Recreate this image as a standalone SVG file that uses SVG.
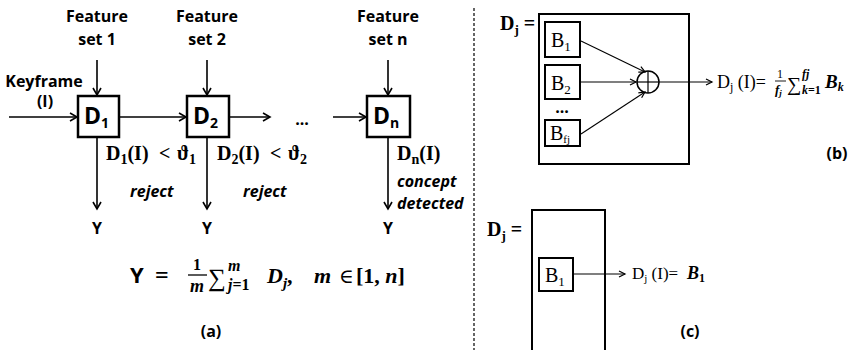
<svg xmlns="http://www.w3.org/2000/svg" width="854" height="350" viewBox="0 0 854 350">
<style>
.lbl{font-family:"Open Sans","Liberation Sans",sans-serif;font-weight:bold;font-size:16px;fill:#000}
.it{font-family:"Open Sans","Liberation Sans",sans-serif;font-weight:bold;font-style:italic;font-size:16px;fill:#000}
.dbox{font-family:"Open Sans","Liberation Sans",sans-serif;font-weight:bold;font-size:23px;fill:#000}
.mb{font-family:"Liberation Serif","DejaVu Serif",serif;font-weight:bold;font-size:20px;fill:#000}
.m{font-family:"Liberation Serif","DejaVu Serif",serif;font-size:15px;fill:#000}
.mi{font-family:"Liberation Serif","DejaVu Serif",serif;font-style:italic;font-weight:bold;fill:#000}
.box{fill:#fff;stroke:#000;stroke-width:2.5}
.box2{fill:none;stroke:#000;stroke-width:2}
.c{stroke:#000;stroke-width:1.6;fill:none}
.c2{stroke:#000;stroke-width:1.1;fill:none}
</style>
<defs>
<marker id="ah" markerUnits="userSpaceOnUse" markerWidth="12" markerHeight="12" refX="8" refY="5" orient="auto">
<path d="M1,1 L8,5 L1,9" fill="none" stroke="#000" stroke-width="1.6"/>
</marker>
<marker id="ah2" markerUnits="userSpaceOnUse" markerWidth="10" markerHeight="10" refX="7" refY="4" orient="auto">
<path d="M1,1 L7,4 L1,7" fill="none" stroke="#000" stroke-width="1.2"/>
</marker>
</defs>

<!-- separator -->
<line x1="474" y1="8" x2="474" y2="350" stroke="#000" stroke-width="1.2" stroke-dasharray="3,2"/>

<!-- panel a -->
<g id="input">
<text class="lbl" x="44" y="87" text-anchor="middle">Keyframe</text>
<text class="lbl" x="45" y="107" text-anchor="middle">(I)</text>
</g>
<g id="fs1"><text class="lbl" x="97" y="22" text-anchor="middle">Feature</text><text class="lbl" x="97" y="45" text-anchor="middle">set 1</text></g>
<g id="fs2"><text class="lbl" x="207" y="22" text-anchor="middle">Feature</text><text class="lbl" x="207" y="45" text-anchor="middle">set 2</text></g>
<g id="fsn"><text class="lbl" x="388" y="22" text-anchor="middle">Feature</text><text class="lbl" x="388" y="45" text-anchor="middle">set n</text></g>

<g id="D1"><rect class="box" x="78" y="96" width="41" height="41"/><text class="dbox" x="84" y="124">D<tspan font-size="14" dy="4">1</tspan></text></g>
<g id="D2"><rect class="box" x="187" y="96" width="42" height="41"/><text class="dbox" x="193" y="124">D<tspan font-size="14" dy="4">2</tspan></text></g>
<g id="dots"><text class="lbl" x="302" y="125" text-anchor="middle">...</text></g>
<g id="Dn"><rect class="box" x="367" y="96" width="43" height="41"/><text class="dbox" x="373" y="124">D<tspan font-size="14" dy="4">n</tspan></text></g>

<g id="cond1">
<text class="mb" x="106" y="160">D<tspan font-size="14" dy="4">1</tspan><tspan dy="-4">(I)</tspan></text>
<text class="mb" x="159" y="160">&lt;</text>
<text class="mb" x="177" y="160">ϑ<tspan font-size="14" dy="4">1</tspan></text>
</g>
<g id="cond2">
<text class="mb" x="217" y="160">D<tspan font-size="14" dy="4">2</tspan><tspan dy="-4">(I)</tspan></text>
<text class="mb" x="270" y="160">&lt;</text>
<text class="mb" x="288" y="160">ϑ<tspan font-size="14" dy="4">2</tspan></text>
</g>
<g id="condn">
<text class="mb" x="397" y="160">D<tspan font-size="14" dy="4">n</tspan><tspan dy="-4">(I)</tspan></text>
</g>

<text class="it" x="130" y="197">reject</text>
<text class="it" x="243" y="197">reject</text>
<text class="it" x="397" y="187">concept</text>
<text class="it" x="397" y="209">detected</text>

<g id="Y1"><text class="lbl" x="97" y="234" text-anchor="middle">Y</text></g>
<g id="Y2"><text class="lbl" x="207" y="234" text-anchor="middle">Y</text></g>
<g id="Yn"><text class="lbl" x="388" y="234" text-anchor="middle">Y</text></g>

<g id="formula">
<text class="lbl" x="130" y="283" style="font-size:22px">Y</text>
<text class="mb" x="155" y="283" style="font-size:24px">=</text>
<text class="mb" x="197" y="270" style="font-size:16px" text-anchor="middle">1</text>
<line x1="188" y1="275" x2="207" y2="275" stroke="#000" stroke-width="1.3"/>
<text class="mi" x="197" y="292" style="font-size:18px" text-anchor="middle">m</text>
<text class="m" x="208" y="286" style="font-size:25px">∑</text>
<text class="mi" x="228" y="271" style="font-size:16px">m</text>
<text class="mi" x="228" y="290" style="font-size:16px">j<tspan font-style="normal">=1</tspan></text>
<text class="mi" x="267" y="283" style="font-size:22px">D<tspan font-size="15" dy="5">j</tspan><tspan dy="-5" font-style="normal">,</tspan></text>
<text class="mi" x="314" y="283" style="font-size:22px">m</text>
<text class="m" x="339" y="283" style="font-size:20px">∈</text>
<text class="mb" x="356" y="283" style="font-size:22px">[1,<tspan font-style="italic"> n</tspan>]</text>
</g>
<text class="lbl" x="211" y="337" text-anchor="middle">(a)</text>

<!-- panel b -->
<g id="Dj_b">
<text class="mb" x="500" y="30">D<tspan font-size="13" dy="4">j</tspan><tspan dy="-4"> =</tspan></text>
<rect class="box2" x="539" y="14" width="150" height="150"/>
</g>
<g id="B1b"><rect class="box2" x="545" y="22" width="35" height="35"/><text class="m" x="551" y="47" style="font-size:20px">B<tspan font-size="13" dy="4">1</tspan></text></g>
<g id="B2b"><rect class="box2" x="545" y="65" width="35" height="34"/><text class="m" x="551" y="90" style="font-size:20px">B<tspan font-size="13" dy="4">2</tspan></text></g>
<text class="lbl" x="562" y="113" text-anchor="middle">...</text>
<g id="Bfj"><rect class="box2" x="545" y="120" width="35" height="26"/><text class="m" x="550" y="140" style="font-size:20px">B<tspan font-size="11" dy="3">fj</tspan></text></g>
<g id="sum">
<circle cx="648" cy="82" r="11" fill="#fff" stroke="#000" stroke-width="1.5"/>
<line x1="637" y1="82" x2="659" y2="82" stroke="#000" stroke-width="1.2"/>
<line x1="648" y1="71" x2="648" y2="93" stroke="#000" stroke-width="1.2"/>
</g>
<g id="outb">
<text class="m" x="717" y="88" style="font-size:18px">D<tspan font-size="12" dy="3">j</tspan><tspan dy="-3"> (I)=</tspan></text>
<text class="m" x="780" y="78" style="font-size:12px" text-anchor="middle">1</text>
<line x1="775" y1="81" x2="786" y2="81" stroke="#000" stroke-width="0.9"/>
<text class="mi" x="775" y="94" style="font-size:13px">f<tspan font-size="9" dy="2">j</tspan></text>
<text class="m" x="787" y="91" style="font-size:20px">∑</text>
<text class="mi" x="802" y="78" style="font-size:12px">fj</text>
<text class="mi" x="802" y="94" style="font-size:12px">k<tspan font-style="normal">=1</tspan></text>
<text class="mi" x="825" y="88" style="font-size:19px">B<tspan font-size="12" dy="3">k</tspan></text>
</g>
<text class="lbl" x="837" y="159" text-anchor="middle">(b)</text>

<!-- panel c -->
<g id="Dj_c">
<text class="mb" x="487" y="236">D<tspan font-size="13" dy="4">j</tspan><tspan dy="-4"> =</tspan></text>
<rect class="box2" x="532" y="210" width="73" height="150"/>
</g>
<g id="B1c"><rect class="box2" x="539" y="258" width="34" height="33"/><text class="m" x="545" y="282" style="font-size:20px">B<tspan font-size="13" dy="4">1</tspan></text></g>
<g id="outc">
<text class="m" x="632" y="279" style="font-size:17px">D<tspan font-size="11" dy="3">j</tspan><tspan dy="-3"> (I)=</tspan></text>
<text class="mi" x="687" y="279" style="font-size:18px">B<tspan font-size="12" dy="3" font-style="normal">1</tspan></text>
</g>
<text class="lbl" x="690" y="337" text-anchor="middle">(c)</text>

<!-- connectors -->
<g id="connectors">
<line class="c" x1="9" y1="117" x2="77" y2="117" marker-end="url(#ah)"/>
<line class="c" x1="119" y1="117" x2="186" y2="117" marker-end="url(#ah)"/>
<line class="c" x1="229" y1="117" x2="270" y2="117" marker-end="url(#ah)"/>
<line class="c" x1="333" y1="117" x2="366" y2="117" marker-end="url(#ah)"/>
<line class="c" x1="97" y1="60" x2="97" y2="95" marker-end="url(#ah)"/>
<line class="c" x1="207" y1="60" x2="207" y2="95" marker-end="url(#ah)"/>
<line class="c" x1="388" y1="60" x2="388" y2="95" marker-end="url(#ah)"/>
<line class="c" x1="97" y1="138" x2="97" y2="209" marker-end="url(#ah)"/>
<line class="c" x1="207" y1="138" x2="207" y2="209" marker-end="url(#ah)"/>
<line class="c" x1="388" y1="138" x2="388" y2="209" marker-end="url(#ah)"/>
<line class="c2" x1="581" y1="41" x2="645" y2="72" marker-end="url(#ah2)"/>
<line class="c2" x1="581" y1="82" x2="636" y2="82" marker-end="url(#ah2)"/>
<line class="c2" x1="581" y1="134" x2="645" y2="92" marker-end="url(#ah2)"/>
<line class="c2" x1="659" y1="82" x2="712" y2="82" marker-end="url(#ah2)"/>
<line class="c2" x1="574" y1="274" x2="625" y2="274" marker-end="url(#ah2)"/>
</g>
</svg>
